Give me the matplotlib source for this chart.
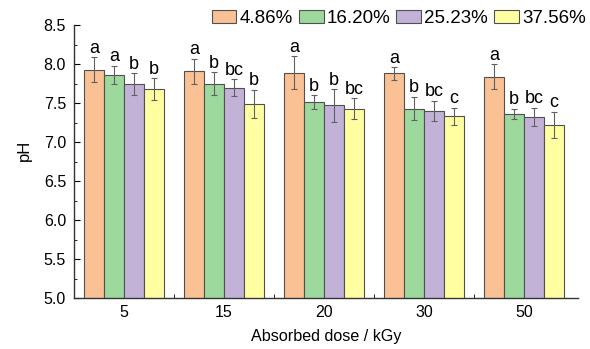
import numpy as np
import matplotlib.pyplot as plt
from matplotlib.ticker import MultipleLocator, FixedLocator

plt.rcParams['font.family'] = ['Liberation Sans', 'DejaVu Sans']

doses = ['5', '15', '20', '30', '50']
series = ['4.86%', '16.20%', '25.23%', '37.56%']
ph = [
    [7.93, 7.91, 7.89, 7.88, 7.84],
    [7.86, 7.75, 7.51, 7.43, 7.36],
    [7.74, 7.70, 7.47, 7.40, 7.32],
    [7.68, 7.49, 7.43, 7.33, 7.22],
]
err = [
    [0.16, 0.16, 0.21, 0.08, 0.16],
    [0.12, 0.15, 0.09, 0.15, 0.07],
    [0.14, 0.11, 0.21, 0.13, 0.12],
    [0.14, 0.18, 0.13, 0.11, 0.17],
]
letters = [
    ['a', 'a', 'a', 'a', 'a'],
    ['a', 'b', 'b', 'b', 'b'],
    ['b', 'bc', 'b', 'bc', 'bc'],
    ['b', 'b', 'bc', 'c', 'c'],
]
colors = ['#FAC195', '#9DD89D', '#C2B2D8', '#FFFFA2']

fig = plt.figure(figsize=(5.9, 3.49), dpi=100)
ax = fig.add_axes([0.125, 0.146, 0.855, 0.782])

x = np.arange(len(doses))
w = 0.2
for i in range(len(series)):
    pos = x + (i - 1.5) * w
    ax.bar(pos, ph[i], w, bottom=0, color=colors[i], edgecolor='#505050',
           linewidth=0.8, label=series[i], zorder=2)
    ax.errorbar(pos, ph[i], yerr=err[i], fmt='none', ecolor='#606060',
                elinewidth=0.8, capsize=2.5, capthick=0.8, zorder=3)
    for p, v, e, t in zip(pos, ph[i], err[i], letters[i]):
        ax.text(p, v + e + 0.005, t, ha='center', va='bottom', fontsize=13)

ax.set_ylim(5.0, 8.5)
ax.set_xlim(-0.5, 4.54)
ax.yaxis.set_major_locator(MultipleLocator(0.5))
ax.yaxis.set_minor_locator(MultipleLocator(0.25))
ax.set_xticks(x)
ax.set_xticklabels(doses)
ax.xaxis.set_minor_locator(FixedLocator(x[:-1] + 0.5))
ax.tick_params(axis='y', which='major', direction='in', length=4,
               labelsize=11.5, pad=5.5)
ax.tick_params(axis='y', which='minor', direction='in', length=2)
ax.tick_params(axis='x', which='major', length=0, labelsize=11.5, pad=5)
ax.tick_params(axis='x', which='minor', direction='in', length=3)
ax.spines['top'].set_visible(False)
ax.spines['right'].set_visible(False)
for s in ['left', 'bottom']:
    ax.spines[s].set_color('#333333')
    ax.spines[s].set_linewidth(1.0)

ax.set_ylabel('pH', fontsize=12)
ax.set_xlabel('Absorbed dose / kGy', fontsize=11.6)
ax.yaxis.set_label_coords(-0.083, 0.54)
ax.xaxis.set_label_coords(0.5, -0.115)

ax.legend(loc='center right', bbox_to_anchor=(1.015, 1.024), ncol=4,
          frameon=False, fontsize=13.5, handlelength=1.33, handleheight=0.65,
          handletextpad=0.16, columnspacing=0.32, borderaxespad=0, borderpad=0)

fig.savefig('out.png', dpi=100)
